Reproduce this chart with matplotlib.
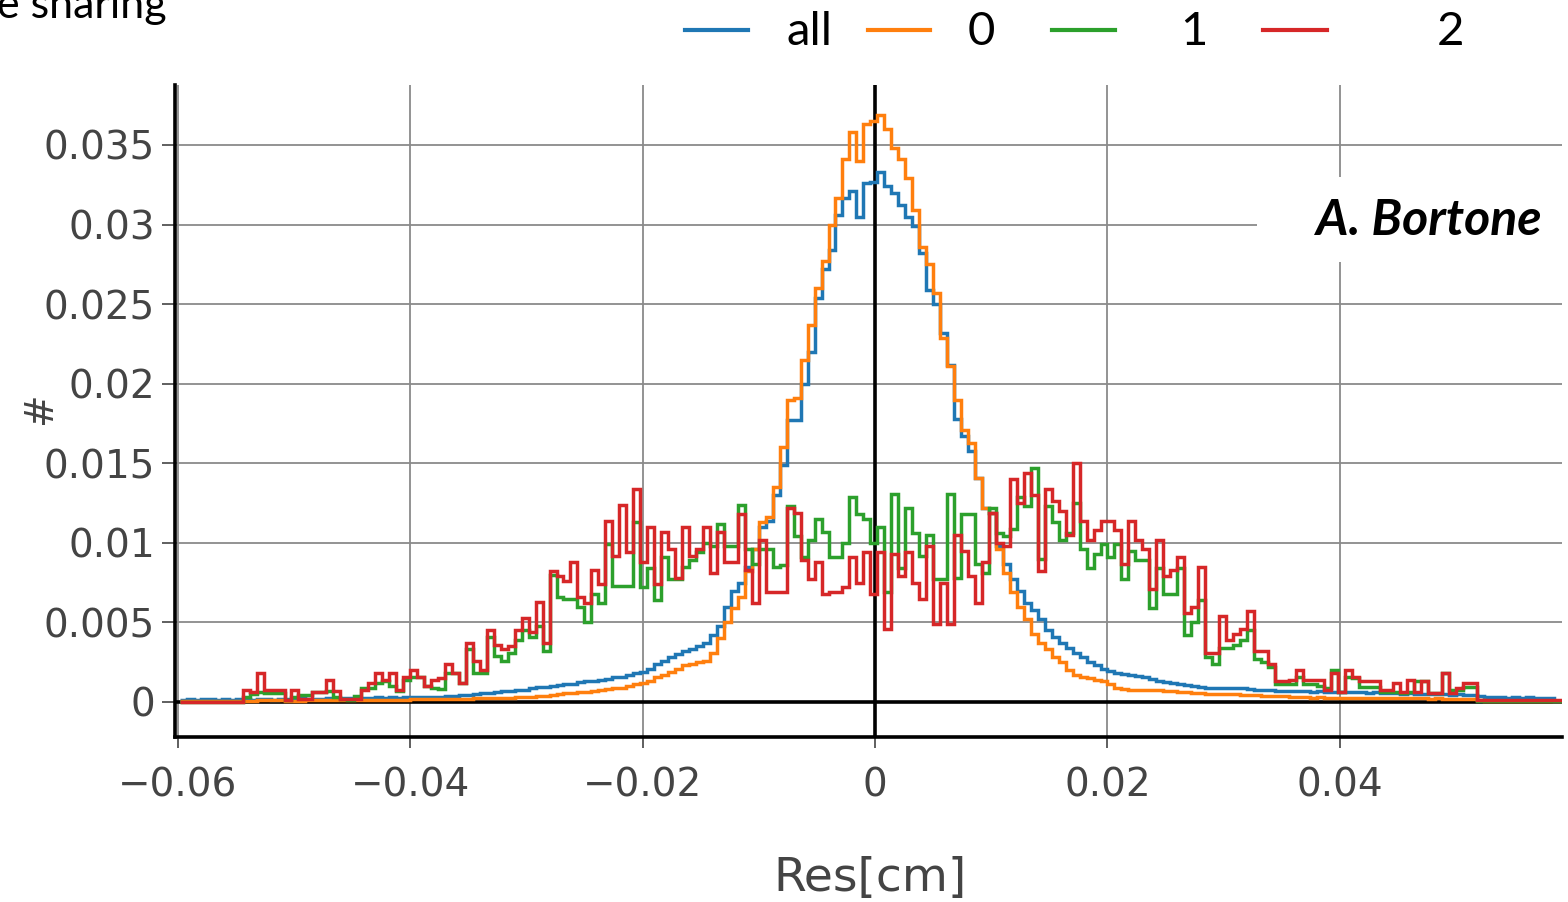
import numpy as np
import matplotlib
matplotlib.use("Agg")
import matplotlib.pyplot as plt
from matplotlib.lines import Line2D
from matplotlib.patches import Rectangle

# histogram contents, in units of 1e-3
bin_lo = -0.0598
bin_w = 0.0006

res_all = [
    0.15, 0.20, 0.15, 0.20, 0.20, 0.15, 0.20, 0.15, 0.20, 0.20,
    0.15, 0.20, 0.20, 0.15, 0.20, 0.20, 0.20, 0.25, 0.20, 0.20,
    0.20, 0.25, 0.20, 0.25, 0.25, 0.20, 0.25, 0.25, 0.30, 0.25,
    0.30, 0.25, 0.30, 0.30, 0.30, 0.30, 0.32, 0.34, 0.36, 0.40,
    0.42, 0.46, 0.50, 0.55, 0.58, 0.62, 0.66, 0.70, 0.74, 0.78,
    0.85, 0.94, 0.97, 1.00, 1.05, 1.10, 1.15, 1.25, 1.30, 1.35,
    1.40, 1.45, 1.55, 1.60, 1.70, 1.80, 1.90, 2.10, 2.40, 2.60,
    2.80, 3.00, 3.20, 3.30, 3.50, 3.70, 4.20, 4.80, 6.00, 7.00,
    7.50, 8.50, 9.60, 11.0, 11.4, 13.0, 14.9, 17.7, 17.7, 20.0,
    22.0, 25.4, 27.2, 28.4, 30.6, 31.7, 32.1, 30.5, 32.6, 32.7,
    33.3, 32.4, 32.0, 31.2, 30.5, 29.9, 28.2, 25.9, 25.0, 23.2,
    21.2, 17.8, 16.7, 15.8, 14.1, 12.2, 11.9, 9.8, 8.7, 7.7,
    7.0, 6.2, 5.8, 5.2, 4.5, 4.1, 3.7, 3.4, 3.1, 2.8,
    2.5, 2.3, 2.1, 1.95, 1.8, 1.75, 1.7, 1.65, 1.55, 1.45,
    1.35, 1.25, 1.2, 1.1, 1.05, 1.0, 0.95, 0.9, 0.9, 0.9,
    0.88, 0.85, 0.85, 0.8, 0.78, 0.75, 0.75, 0.72, 0.7, 0.7,
    0.7, 0.68, 0.65, 0.7, 0.65, 0.62, 0.65, 0.6, 0.62, 0.6,
    0.58, 0.6, 0.55, 0.58, 0.55, 0.52, 0.55, 0.5, 0.52, 0.5,
    0.48, 0.5, 0.45, 0.48, 0.45, 0.42, 0.4, 0.3, 0.32, 0.3,
    0.28, 0.3, 0.28, 0.3, 0.28, 0.26, 0.25, 0.05, 0.05, 0.05,
]

res_0 = [
    0.05, 0.05, 0.05, 0.05, 0.05, 0.05, 0.05, 0.05, 0.05, 0.05,
    0.05, 0.10, 0.15, 0.15, 0.10, 0.05, 0.05, 0.05, 0.10, 0.15,
    0.15, 0.10, 0.10, 0.10, 0.10, 0.12, 0.10, 0.12, 0.15, 0.12,
    0.15, 0.15, 0.15, 0.16, 0.16, 0.17, 0.18, 0.18, 0.19, 0.20,
    0.20, 0.21, 0.22, 0.22, 0.23, 0.24, 0.25, 0.27, 0.29, 0.31,
    0.33, 0.35, 0.40, 0.45, 0.50, 0.55, 0.57, 0.60, 0.65, 0.70,
    0.75, 0.80, 0.85, 0.90, 1.00, 1.10, 1.20, 1.35, 1.55, 1.70,
    1.90, 2.10, 2.30, 2.40, 2.50, 2.60, 3.10, 4.00, 5.00, 5.90,
    6.60, 8.20, 9.60, 11.3, 11.6, 13.5, 16.0, 19.0, 19.1, 21.5,
    23.7, 26.0, 27.7, 30.0, 31.7, 34.1, 35.8, 34.0, 36.3, 36.5,
    36.9, 36.0, 34.8, 34.1, 32.9, 30.9, 28.6, 27.5, 25.7, 22.9,
    21.1, 19.0, 17.1, 16.3, 14.1, 12.2, 11.9, 9.6, 8.1, 6.9,
    6.0, 5.2, 4.3, 3.7, 3.3, 2.8, 2.5, 2.0, 1.7, 1.6,
    1.5, 1.4, 1.3, 1.1, 0.9, 0.8, 0.78, 0.76, 0.75, 0.75,
    0.74, 0.72, 0.7, 0.65, 0.6, 0.57, 0.55, 0.52, 0.5, 0.5,
    0.5, 0.48, 0.45, 0.43, 0.42, 0.4, 0.38, 0.36, 0.35, 0.32,
    0.3, 0.3, 0.28, 0.3, 0.28, 0.27, 0.28, 0.26, 0.27, 0.25,
    0.26, 0.25, 0.24, 0.25, 0.23, 0.24, 0.22, 0.23, 0.22, 0.2,
    0.22, 0.2, 0.2, 0.18, 0.2, 0.18, 0.15, 0.05, 0.05, 0.05,
    0.05, 0.05, 0.05, 0.05, 0.05, 0.05, 0.05, 0.05, 0.05, 0.05,
]

res_1 = [
    0, 0, 0, 0, 0, 0, 0, 0, 0, 0.3,
    0.5, 0.6, 0.55, 0.55, 0.55, 0.1, 0.3, 0.45, 0.45, 0.6,
    0.6, 0.7, 0.3, 0.2, 0.1, 0.35, 0.9, 0.9, 1.2, 1.3,
    1.0, 0.7, 1.4, 1.6, 1.6, 1.0, 0.9, 0.8, 1.8, 1.8,
    1.2, 3.3, 1.8, 1.8, 4.1, 2.9, 2.6, 3.1, 3.9, 4.5,
    4.1, 4.8, 3.2, 8.0, 6.6, 6.5, 6.5, 6.0, 5.0, 6.8,
    6.2, 9.9, 7.3, 7.3, 7.3, 11.3, 7.2, 8.4, 6.4, 9.1,
    7.7, 7.7, 8.5, 8.9, 9.4, 10.0, 9.8, 11.2, 9.8, 9.8,
    12.4, 9.6, 8.7, 9.6, 9.6, 8.5, 8.6, 12.3, 10.4, 9.1,
    10.2, 11.5, 10.7, 9.1, 9.1, 10.0, 12.9, 11.8, 11.5, 10.0,
    11.0, 6.9, 13.1, 8.4, 12.2, 10.6, 9.2, 10.5, 7.7, 7.7,
    13.1, 7.8, 11.8, 11.8, 8.7, 8.1, 12.2, 10.6, 10.4, 10.9,
    12.9, 12.3, 14.7, 9.0, 12.3, 11.3, 10.2, 10.6, 12.5, 9.6,
    8.4, 9.3, 9.9, 9.1, 9.9, 7.7, 9.5, 8.9, 8.9, 5.9,
    8.4, 6.8, 6.8, 8.4, 4.2, 5.0, 6.4, 2.8, 2.4, 3.4,
    3.4, 3.6, 3.9, 4.5, 2.7, 2.5, 2.2, 1.1, 1.1, 1.1,
    1.6, 1.1, 1.1, 1.0, 0.9, 2.0, 0.65, 1.6, 1.5, 0.96,
    0.96, 0.96, 0.65, 0.65, 0.65, 0.55, 0.65, 1.3, 1.3, 0.55,
    0.55, 1.8, 0.75, 0.75, 0.96, 0.96, 0.05, 0.05, 0.05, 0.05,
    0.05, 0.05, 0.05, 0.05, 0.05, 0.05, 0.05, 0.05, 0.05, 0.05,
]

res_2 = [
    0, 0, 0, 0, 0, 0, 0, 0, 0, 0.75,
    0.65, 1.8, 0.75, 0.75, 0.75, 0.15, 0.75, 0.2, 0.2, 0.6,
    0.65, 1.4, 0.7, 0.2, 0.2, 0.2, 0.75, 1.17, 1.8, 1.4,
    1.8, 0.75, 1.6, 2.0, 1.6, 1.0, 1.4, 1.5, 2.4, 1.8,
    1.17, 3.7, 2.6, 2.0, 4.5, 3.6, 3.3, 3.5, 4.5, 5.3,
    4.4, 6.3, 3.7, 8.2, 7.9, 7.6, 8.8, 6.6, 6.2, 8.3,
    7.4, 11.4, 9.2, 12.4, 9.4, 13.4, 8.8, 11.0, 7.4, 10.7,
    9.6, 7.8, 11.0, 9.2, 9.6, 11.0, 8.1, 10.7, 8.8, 8.8,
    11.8, 8.3, 6.2, 10.2, 6.9, 6.9, 6.9, 12.2, 11.9, 8.9,
    7.7, 8.8, 6.8, 6.9, 6.9, 7.2, 9.1, 7.5, 9.4, 6.8,
    9.4, 4.6, 9.3, 7.9, 9.4, 7.5, 6.5, 9.8, 4.9, 7.5,
    4.9, 10.5, 9.5, 7.9, 6.2, 8.8, 11.9, 10.0, 9.8, 14.0,
    12.5, 14.4, 13.0, 8.2, 13.4, 12.6, 12.0, 10.5, 15.0, 11.4,
    10.2, 10.8, 11.4, 11.4, 10.8, 8.7, 11.4, 10.2, 9.6, 7.1,
    10.2, 7.9, 8.3, 9.1, 5.6, 6.0, 8.5, 3.1, 3.1, 5.4,
    3.9, 4.3, 4.6, 5.7, 3.2, 3.2, 2.4, 1.3, 1.3, 1.4,
    2.0, 1.4, 1.4, 1.4, 0.75, 1.8, 0.65, 2.0, 1.6, 1.3,
    1.3, 1.3, 0.75, 0.75, 1.17, 0.65, 1.4, 0.65, 1.3, 0.55,
    0.55, 1.8, 0.55, 0.85, 1.17, 1.17, 0.1, 0.1, 0.1, 0.1,
    0.1, 0.1, 0.1, 0.1, 0.1, 0.1, 0.1, 0.1, 0.1, 0.1,
]

labels = ["all", "0", "1", "2"]
colors = ["#1f77b4", "#ff7f0e", "#2ca02c", "#d62728"]

x_ticks = [-0.06, -0.04, -0.02, 0, 0.02, 0.04]
x_tick_labels = ["\u22120.06", "\u22120.04", "\u22120.02", "0", "0.02", "0.04"]
y_ticks = [0, 0.005, 0.01, 0.015, 0.02, 0.025, 0.03, 0.035]
y_tick_labels = ["0", "0.005", "0.01", "0.015", "0.02", "0.025", "0.03", "0.035"]

series = [res_all, res_0, res_1, res_2]
for s in series:
    assert len(s) == 200
edges = bin_lo + bin_w * np.arange(len(res_all) + 1)

W, H = 1568, 902
fig = plt.figure(figsize=(W / 100, H / 100), dpi=100)
ax = fig.add_axes([175 / W, 1 - 737 / H, (1562 - 175) / W, (737 - 85) / H])

grey = "#444444"
ax.set_axisbelow(True)
ax.grid(True, color="#8a8a8a", lw=1.3)
ax.axhline(0, color="black", lw=2.6, zorder=1.5)
ax.axvline(0, color="black", lw=2.6, zorder=1.5)

for i, (vals, c) in enumerate(zip(series, colors)):
    ax.stairs(np.array(vals) * 1e-3, edges, color=c, lw=2.5,
              baseline=None, zorder=2 + i)

ax.set_xlim(-0.06022, 0.0591)
ax.set_ylim(-0.0022, 0.03877)
ax.set_xticks(x_ticks)
ax.set_xticklabels(x_tick_labels)
ax.set_yticks(y_ticks)
ax.set_yticklabels(y_tick_labels)
ax.tick_params(axis="both", colors=grey, labelcolor=grey, labelsize=28, width=1.2)
ax.tick_params(axis="y", length=9.4, pad=5)
ax.tick_params(axis="x", length=8, pad=13)

for side in ["top", "right"]:
    ax.spines[side].set_visible(False)
for side in ["left", "bottom"]:
    ax.spines[side].set_color("black")
    ax.spines[side].set_linewidth(2.6)

ax.set_xlabel("Res[cm]", fontsize=34, color=grey)
ax.xaxis.label.set_va("center")
ax.xaxis.set_label_coords((870 - 175) / 1387, (737 - 879) / 652)
ax.set_ylabel("#", fontsize=28, color=grey)
ax.yaxis.label.set_va("center")
ax.yaxis.set_label_coords((40 - 175) / 1387, (737 - 408) / 652)

# legend along the top
leg_y = 1 - 30 / H
handle_x = [(685, 748), (868, 930), (1052, 1115), (1263, 1327)]
text_x = [787, 968, 1180, 1437]
for (x0, x1), tx, lab, c in zip(handle_x, text_x, labels, colors):
    fig.add_artist(Line2D([x0 / W, x1 / W], [leg_y, leg_y],
                          transform=fig.transFigure, color=c, lw=3))
    fig.text(tx / W, 1 - 45 / H, lab, fontsize=34, family="Lato",
             va="baseline", ha="left")

# title is cut off by the top edge, as in the source slide
fig.text(-3 / W, 1 - 18 / H, "e sharing", fontsize=31, family="Lato",
         va="baseline", ha="left")

# author tag on a white patch
fig.add_artist(Rectangle((1257 / W, 1 - 262 / H), 311 / W, 85 / H,
                         transform=fig.transFigure, facecolor="white",
                         edgecolor="none", zorder=3))
fig.text(1542 / W, 1 - 235 / H, "A. Bortone", fontsize=36, family="Lato",
         fontweight="bold", style="italic", ha="right", va="baseline",
         zorder=4)

fig.savefig("out.png", dpi=100)
